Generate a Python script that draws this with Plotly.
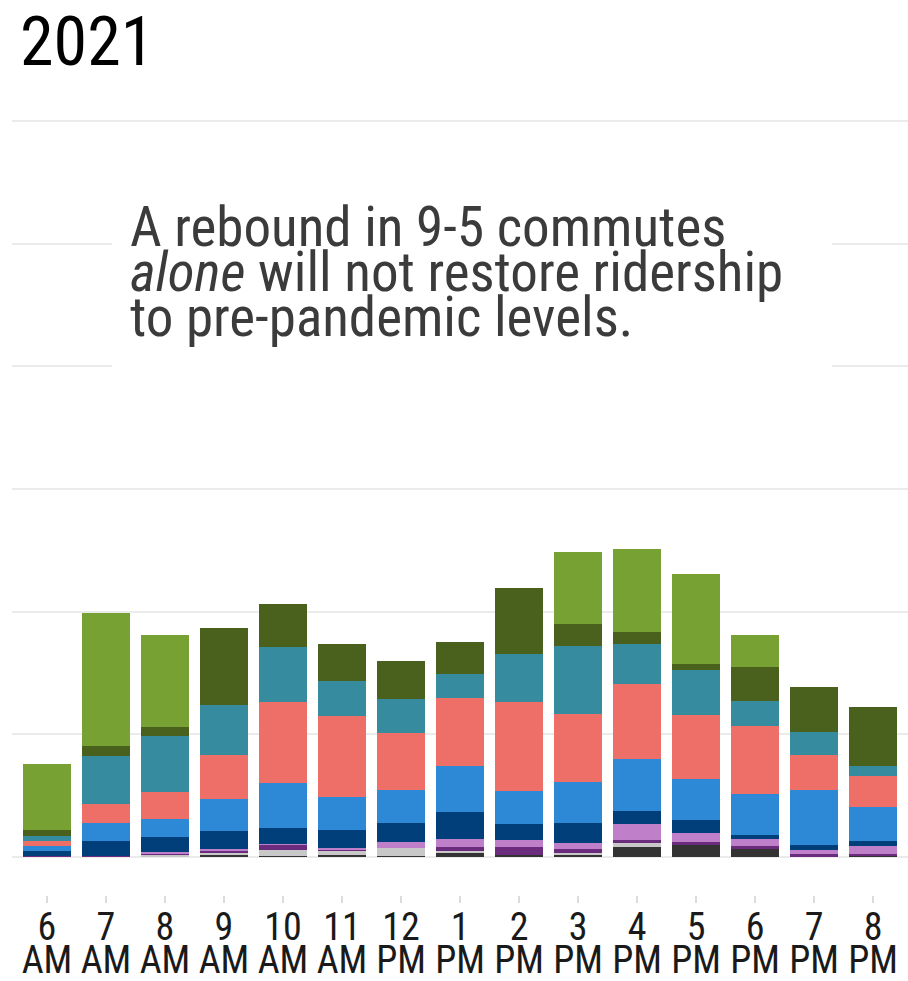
import plotly.graph_objects as go

# hour of day (x categories)
hours = ["6", "7", "8", "9", "10", "11", "12", "1", "2", "3", "4", "5", "6", "7", "8"]
meridiem = ["AM", "AM", "AM", "AM", "AM", "AM", "PM", "PM", "PM", "PM", "PM", "PM", "PM", "PM", "PM"]

# stacked segments, bottom to top (one gridline step = 100)
dark_gray = [0, 0, 0.7, 1.9, 1.1, 1.6, 0.8, 3.0, 1.6, 2.0, 8.1, 9.5, 6.5, 0, 1.4]
light_gray = [0, 0, 1.0, 1.1, 4.9, 3.3, 6.3, 2.2, 0, 1.0, 4.1, 0, 0, 0, 0]
dark_purple = [1.1, 1.2, 1.2, 2.2, 4.1, 0.4, 0, 3.3, 6.3, 3.5, 1.4, 2.7, 2.4, 2.2, 1.4]
light_purple = [0, 0, 1.2, 1.1, 0.2, 1.9, 5.1, 6.5, 6.3, 4.6, 13.0, 7.1, 5.9, 3.8, 6.3]
navy = [3.6, 12.2, 12.0, 15.2, 13.3, 14.4, 15.7, 22.0, 12.5, 16.3, 10.6, 10.6, 3.3, 4.1, 3.8]
blue = [4.6, 14.7, 14.7, 25.5, 36.7, 26.9, 26.7, 37.2, 26.9, 33.9, 42.4, 33.4, 32.9, 44.5, 28.0]
salmon = [3.7, 14.7, 22.0, 36.1, 65.8, 66.8, 46.2, 55.2, 73.1, 55.4, 61.1, 52.7, 55.9, 28.5, 25.5]
teal = [4.1, 39.7, 45.9, 41.0, 44.8, 28.3, 28.0, 19.8, 39.1, 54.9, 33.2, 36.1, 20.1, 18.7, 7.6]
olive = [4.9, 7.6, 7.1, 62.3, 35.0, 30.2, 30.7, 26.1, 53.2, 18.2, 9.2, 4.9, 27.5, 36.9, 48.3]
green = [53.5, 109.0, 75.2, 0, 0, 0, 0, 0, 0, 58.9, 67.6, 73.9, 26.1, 0, 0]

series = [
    (dark_gray, "#333333"),
    (light_gray, "#c8c8c8"),
    (dark_purple, "#6b2c7e"),
    (light_purple, "#bf80c9"),
    (navy, "#003f7a"),
    (blue, "#2d89d5"),
    (salmon, "#ee6f67"),
    (teal, "#378b9e"),
    (olive, "#4a611e"),
    (green, "#78a133"),
]

FONT = "Liberation Sans Narrow, Arial Narrow, Roboto Condensed, sans-serif"

x = list(range(len(hours)))
xrange_ = [-0.593, 14.593]

fig = go.Figure()

for values, color in series:
    fig.add_trace(go.Bar(x=x, y=values,
                         marker=dict(color=color, line=dict(width=0)),
                         width=0.81,
                         showlegend=False,
                         hoverinfo="skip"))

# invisible trace so the second (AM/PM) x axis gets drawn
fig.add_trace(go.Scatter(x=x, y=[0] * len(x), xaxis="x2", mode="markers",
                         marker=dict(opacity=0), showlegend=False, hoverinfo="skip"))

# plot area: 12..908 px wide, 83..895 px tall
top, bottom, left = 83, 895, 12
ph = bottom - top
pw = 908 - left

def py(pix):
    return (bottom - pix) / ph

def px(pix):
    return (pix - left) / pw

# white panel behind the message, hides the gridlines
fig.add_shape(type="rect", xref="paper", yref="paper",
              x0=px(112), x1=px(832), y0=py(400), y1=py(185),
              fillcolor="white", line=dict(width=0), layer="above")

lines = ["A rebound in 9-5 commutes",
         "<i>alone</i> will not restore ridership",
         "to pre-pandemic levels."]
for i, line in enumerate(lines):
    fig.add_annotation(text=line, xref="paper", yref="paper",
                       x=px(128), y=py(227 + 45 * i), xanchor="left", yanchor="middle",
                       showarrow=False, font=dict(family=FONT, size=55, color="#3b3b3b"))

fig.add_annotation(text="2021", xref="paper", yref="paper",
                   x=px(18), y=py(42), xanchor="left", yanchor="middle",
                   showarrow=False, font=dict(family=FONT, size=68, color="black"))

fig.update_layout(
    barmode="stack",
    width=908, height=981,
    margin=dict(l=left, r=0, t=top, b=981 - bottom),
    plot_bgcolor="white",
    paper_bgcolor="white",
    font=dict(family=FONT, color="#1a1a1a"),
    xaxis=dict(range=xrange_, tickmode="array", tickvals=x, ticktext=hours,
               ticks="outside", ticklen=7, tickwidth=2, tickcolor="#dcdcdc",
               tickfont=dict(size=38, color="#1a1a1a"), ticklabelstandoff=-9,
               automargin=False, showgrid=False, zeroline=False, showline=False),
    xaxis2=dict(overlaying="x", side="bottom", anchor="y",
                range=xrange_, tickmode="array", tickvals=x, ticktext=meridiem,
                ticks="", tickfont=dict(size=38, color="#1a1a1a"), ticklabelstandoff=39,
                automargin=False, showgrid=False, zeroline=False, showline=False),
    yaxis=dict(range=[-31, 631], dtick=100, showticklabels=False, automargin=False,
               gridcolor="#ebebeb", gridwidth=2, zeroline=False, showline=False),
)

# page body has a default 8px margin; drop it so the figure sits at the corner
fig.write_html("out.html", config={"displayModeBar": False},
               post_script="document.body.style.margin='0';")
